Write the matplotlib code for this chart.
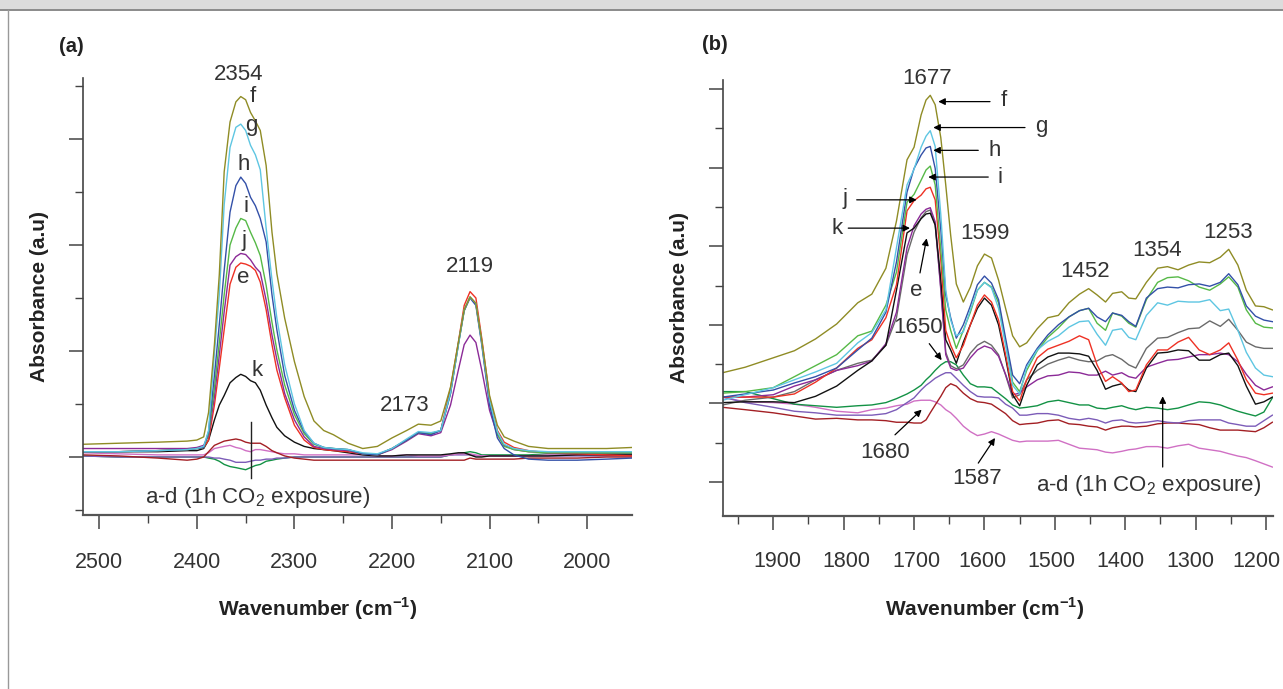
import matplotlib
matplotlib.use("Agg")
import matplotlib.pyplot as plt
from matplotlib.ticker import MultipleLocator
from matplotlib.patches import Rectangle
from matplotlib.lines import Line2D
import matplotlib.transforms as mtransforms

plt.rcParams['font.family'] = ['Liberation Sans', 'DejaVu Sans']
plt.rcParams['mathtext.fontset'] = 'custom'
plt.rcParams['mathtext.rm'] = 'Liberation Sans'
plt.rcParams['mathtext.bf'] = 'Liberation Sans:bold'

# ---- panel (a): 2520-1950 cm-1 (a.u.) ----
wn_a = [2517, 2480, 2440, 2410, 2400, 2393, 2388, 2382, 2377, 2372,
        2366, 2360, 2355, 2350, 2345, 2340, 2335, 2329, 2323, 2318,
        2310, 2300, 2290, 2280, 2270, 2260, 2245, 2230, 2215, 2200,
        2185, 2173, 2160, 2150, 2140, 2132, 2126, 2120, 2114, 2108,
        2100, 2092, 2085, 2075, 2060, 2040, 2010, 1980, 1954]

a_f = [0.012, 0.013, 0.014, 0.015, 0.016, 0.019, 0.042, 0.106, 0.172, 0.269,
       0.316, 0.335, 0.340, 0.337, 0.325, 0.317, 0.308, 0.275, 0.212, 0.173,
       0.131, 0.090, 0.057, 0.034, 0.025, 0.021, 0.013, 0.008, 0.010, 0.018,
       0.025, 0.031, 0.030, 0.034, 0.066, 0.108, 0.139, 0.151, 0.145, 0.110,
       0.058, 0.030, 0.019, 0.015, 0.010, 0.008, 0.008, 0.008, 0.009]
a_g = [0.005, 0.005, 0.006, 0.007, 0.008, 0.010, 0.025, 0.098, 0.153, 0.238,
       0.292, 0.311, 0.314, 0.308, 0.294, 0.285, 0.271, 0.216, 0.167, 0.131,
       0.087, 0.050, 0.025, 0.013, 0.009, 0.008, 0.007, 0.004, 0.003, 0.008,
       0.017, 0.024, 0.023, 0.025, 0.061, 0.106, 0.139, 0.151, 0.145, 0.108,
       0.054, 0.024, 0.012, 0.008, 0.006, 0.005, 0.005, 0.005, 0.005]
a_h = [0.005, 0.005, 0.006, 0.007, 0.008, 0.009, 0.024, 0.077, 0.125, 0.176,
       0.231, 0.256, 0.264, 0.258, 0.245, 0.237, 0.225, 0.203, 0.153, 0.120,
       0.077, 0.044, 0.024, 0.013, 0.009, 0.008, 0.007, 0.003, 0.002, 0.008,
       0.016, 0.023, 0.021, 0.025, 0.060, 0.106, 0.138, 0.150, 0.143, 0.106,
       0.049, 0.018, 0.008, 0.002, -0.002, -0.003, -0.003, -0.002, -0.001]
a_i = [0.005, 0.005, 0.006, 0.007, 0.008, 0.009, 0.022, 0.065, 0.108, 0.153,
       0.200, 0.216, 0.225, 0.223, 0.212, 0.202, 0.190, 0.162, 0.127, 0.101,
       0.068, 0.040, 0.022, 0.012, 0.009, 0.008, 0.007, 0.003, 0.002, 0.008,
       0.016, 0.023, 0.022, 0.025, 0.060, 0.106, 0.138, 0.151, 0.144, 0.108,
       0.052, 0.022, 0.010, 0.007, 0.005, 0.004, 0.004, 0.004, 0.004]
a_j = [0.008, 0.008, 0.008, 0.008, 0.009, 0.011, 0.020, 0.057, 0.096, 0.137,
       0.181, 0.189, 0.192, 0.191, 0.186, 0.179, 0.174, 0.148, 0.115, 0.092,
       0.060, 0.035, 0.019, 0.010, 0.008, 0.007, 0.006, 0.003, 0.002, 0.007,
       0.015, 0.022, 0.020, 0.023, 0.049, 0.082, 0.106, 0.115, 0.108, 0.082,
       0.044, 0.021, 0.011, 0.007, 0.005, 0.004, 0.004, 0.004, 0.004]
a_e = [0.005, 0.005, 0.006, 0.007, 0.008, 0.009, 0.016, 0.049, 0.084, 0.120,
       0.163, 0.179, 0.183, 0.182, 0.180, 0.176, 0.165, 0.139, 0.106, 0.082,
       0.056, 0.030, 0.016, 0.009, 0.007, 0.006, 0.005, 0.003, 0.002, 0.008,
       0.016, 0.023, 0.022, 0.025, 0.065, 0.108, 0.143, 0.156, 0.150, 0.112,
       0.056, 0.025, 0.014, 0.009, 0.006, 0.004, 0.003, 0.002, 0.001]
a_k = [0.005, 0.005, 0.005, 0.006, 0.006, 0.008, 0.016, 0.035, 0.049, 0.058,
       0.070, 0.075, 0.078, 0.076, 0.072, 0.070, 0.063, 0.049, 0.037, 0.028,
       0.020, 0.014, 0.010, 0.008, 0.007, 0.006, 0.004, 0.002, 0.001, 0.001,
       0.002, 0.002, 0.002, 0.002, 0.003, 0.004, 0.004, 0.002, 0.000, 0.000,
       0.001, 0.001, 0.001, 0.001, 0.001, 0.001, 0.002, 0.002, 0.002]
# a-d (1h CO2 exposure)
a_ad_red = [0.002, 0.001, -0.001, -0.003, -0.002, 0.000, 0.005, 0.011, 0.013, 0.015,
            0.016, 0.017, 0.016, 0.014, 0.013, 0.013, 0.013, 0.010, 0.006, 0.004,
            0.001, -0.001, -0.002, -0.003, -0.003, -0.003, -0.003, -0.003, -0.003, -0.003,
            -0.003, -0.003, -0.003, -0.003, -0.003, -0.003, -0.003, -0.001, -0.002, -0.002,
            -0.002, -0.002, -0.002, -0.002, -0.001, -0.001, -0.001, 0.000, 0.000]
a_ad_pink = [0.004, 0.003, 0.002, 0.002, 0.002, 0.002, 0.004, 0.008, 0.009, 0.010,
             0.011, 0.009, 0.008, 0.006, 0.005, 0.007, 0.007, 0.006, 0.005, 0.004,
             0.003, 0.003, 0.002, 0.002, 0.002, 0.002, 0.002, 0.002, 0.001, 0.001,
             0.002, 0.001, 0.001, 0.001, 0.002, 0.003, 0.003, 0.003, 0.002, 0.001,
             0.001, 0.001, 0.001, 0.001, 0.001, 0.002, 0.002, 0.002, 0.002]
a_ad_violet = [0.001, 0.000, 0.000, 0.000, 0.000, 0.000, 0.000, -0.001, -0.001, -0.002,
               -0.003, -0.005, -0.005, -0.005, -0.004, -0.003, -0.003, -0.002, -0.002, -0.001,
               -0.001, 0.000, 0.000, 0.000, 0.000, 0.000, 0.000, 0.000, 0.000, 0.000,
               0.000, 0.000, 0.000, 0.000, 0.002, 0.002, 0.002, 0.002, 0.001, 0.001,
               0.001, 0.001, 0.001, 0.001, 0.001, 0.001, 0.001, 0.001, 0.001]
a_ad_green = [0.001, 0.000, 0.000, 0.000, 0.000, 0.000, -0.001, -0.002, -0.004, -0.007,
              -0.009, -0.010, -0.011, -0.012, -0.010, -0.008, -0.007, -0.004, -0.003, -0.002,
              -0.001, 0.000, 0.000, 0.000, 0.000, 0.000, 0.000, 0.000, 0.000, 0.000,
              0.000, 0.000, 0.000, 0.000, 0.002, 0.003, 0.004, 0.005, 0.004, 0.002,
              0.002, 0.002, 0.002, 0.002, 0.002, 0.003, 0.003, 0.003, 0.003]

# ---- panel (b): 1970-1190 cm-1 ----
wn_b = [1972, 1940, 1900, 1870, 1840, 1810, 1780, 1760, 1740, 1725,
        1710, 1700, 1690, 1683, 1677, 1670, 1662, 1655, 1648, 1640,
        1630, 1620, 1610, 1600, 1590, 1580, 1570, 1560, 1550, 1540,
        1525, 1510, 1495, 1480, 1465, 1452, 1440, 1428, 1418, 1405,
        1395, 1385, 1370, 1354, 1340, 1325, 1310, 1295, 1280, 1265,
        1253, 1240, 1228, 1215, 1203, 1191]
b_tick_labels = [1900, 1800, 1700, 1600, 1500, 1400, 1300, 1200]

b_f = [0.139, 0.146, 0.158, 0.167, 0.182, 0.201, 0.228, 0.239, 0.272, 0.332,
       0.410, 0.426, 0.467, 0.486, 0.492, 0.480, 0.438, 0.378, 0.314, 0.252,
       0.229, 0.248, 0.275, 0.290, 0.285, 0.257, 0.221, 0.186, 0.172, 0.177,
       0.195, 0.209, 0.212, 0.228, 0.239, 0.246, 0.238, 0.229, 0.240, 0.242,
       0.234, 0.233, 0.254, 0.272, 0.274, 0.270, 0.276, 0.280, 0.279, 0.286,
       0.296, 0.276, 0.244, 0.224, 0.223, 0.219]
b_g = [0.104, 0.111, 0.120, 0.130, 0.140, 0.151, 0.177, 0.190, 0.219, 0.298,
       0.378, 0.398, 0.426, 0.440, 0.447, 0.427, 0.340, 0.244, 0.206, 0.186,
       0.191, 0.219, 0.244, 0.254, 0.247, 0.221, 0.174, 0.123, 0.112, 0.146,
       0.168, 0.179, 0.186, 0.197, 0.204, 0.205, 0.188, 0.174, 0.193, 0.195,
       0.184, 0.181, 0.212, 0.228, 0.225, 0.230, 0.229, 0.229, 0.232, 0.218,
       0.220, 0.193, 0.165, 0.145, 0.136, 0.134]
b_h = [0.108, 0.112, 0.117, 0.126, 0.134, 0.145, 0.168, 0.183, 0.216, 0.280,
       0.369, 0.399, 0.416, 0.425, 0.427, 0.399, 0.321, 0.238, 0.209, 0.183,
       0.200, 0.224, 0.251, 0.262, 0.253, 0.232, 0.183, 0.136, 0.125, 0.149,
       0.170, 0.187, 0.200, 0.210, 0.218, 0.221, 0.210, 0.204, 0.215, 0.212,
       0.204, 0.198, 0.234, 0.246, 0.248, 0.247, 0.251, 0.252, 0.249, 0.254,
       0.265, 0.251, 0.224, 0.211, 0.206, 0.204]
b_i = [0.113, 0.115, 0.120, 0.134, 0.148, 0.162, 0.186, 0.192, 0.225, 0.267,
       0.356, 0.366, 0.384, 0.397, 0.402, 0.378, 0.295, 0.219, 0.193, 0.170,
       0.193, 0.216, 0.244, 0.254, 0.248, 0.228, 0.178, 0.127, 0.115, 0.142,
       0.167, 0.184, 0.196, 0.210, 0.218, 0.221, 0.202, 0.193, 0.215, 0.211,
       0.202, 0.197, 0.232, 0.254, 0.260, 0.261, 0.256, 0.248, 0.244, 0.252,
       0.261, 0.248, 0.219, 0.202, 0.197, 0.196]
b_j = [0.108, 0.108, 0.108, 0.112, 0.127, 0.145, 0.170, 0.181, 0.209, 0.251,
       0.345, 0.358, 0.365, 0.373, 0.375, 0.359, 0.282, 0.193, 0.174, 0.158,
       0.174, 0.200, 0.225, 0.238, 0.229, 0.206, 0.162, 0.115, 0.103, 0.130,
       0.158, 0.169, 0.174, 0.179, 0.186, 0.181, 0.149, 0.128, 0.134, 0.126,
       0.115, 0.117, 0.149, 0.168, 0.168, 0.178, 0.184, 0.168, 0.162, 0.168,
       0.177, 0.155, 0.130, 0.113, 0.111, 0.113]
b_k = [0.101, 0.102, 0.102, 0.101, 0.109, 0.122, 0.142, 0.154, 0.174, 0.244,
       0.317, 0.323, 0.335, 0.341, 0.342, 0.327, 0.257, 0.181, 0.168, 0.151,
       0.178, 0.200, 0.221, 0.234, 0.225, 0.200, 0.158, 0.111, 0.097, 0.123,
       0.149, 0.159, 0.164, 0.164, 0.163, 0.160, 0.142, 0.118, 0.122, 0.125,
       0.117, 0.115, 0.145, 0.164, 0.165, 0.168, 0.167, 0.155, 0.155, 0.162,
       0.164, 0.148, 0.122, 0.099, 0.102, 0.108]
b_e = [0.108, 0.108, 0.111, 0.122, 0.130, 0.142, 0.148, 0.154, 0.176, 0.216,
       0.298, 0.326, 0.341, 0.347, 0.349, 0.331, 0.244, 0.162, 0.145, 0.142,
       0.145, 0.158, 0.168, 0.173, 0.170, 0.160, 0.137, 0.111, 0.113, 0.121,
       0.130, 0.135, 0.136, 0.140, 0.139, 0.136, 0.136, 0.141, 0.136, 0.139,
       0.134, 0.132, 0.146, 0.151, 0.155, 0.156, 0.159, 0.162, 0.162, 0.164,
       0.162, 0.153, 0.137, 0.123, 0.117, 0.121]
b_grey = [0.098, 0.104, 0.108, 0.115, 0.130, 0.142, 0.151, 0.155, 0.174, 0.209,
          0.289, 0.318, 0.336, 0.344, 0.346, 0.327, 0.247, 0.165, 0.148, 0.144,
          0.149, 0.164, 0.174, 0.179, 0.174, 0.162, 0.136, 0.107, 0.111, 0.130,
          0.142, 0.150, 0.155, 0.159, 0.155, 0.153, 0.154, 0.160, 0.162, 0.156,
          0.149, 0.145, 0.170, 0.183, 0.184, 0.190, 0.195, 0.196, 0.205, 0.198,
          0.207, 0.193, 0.178, 0.172, 0.170, 0.170]
b_ad_green = [0.115, 0.115, 0.106, 0.099, 0.097, 0.095, 0.097, 0.098, 0.101, 0.106,
              0.112, 0.117, 0.123, 0.130, 0.135, 0.142, 0.149, 0.153, 0.153, 0.149,
              0.136, 0.125, 0.121, 0.121, 0.120, 0.113, 0.106, 0.098, 0.094, 0.095,
              0.097, 0.102, 0.104, 0.101, 0.098, 0.098, 0.094, 0.093, 0.095, 0.097,
              0.094, 0.092, 0.095, 0.094, 0.092, 0.094, 0.098, 0.102, 0.101, 0.098,
              0.094, 0.090, 0.087, 0.084, 0.089, 0.107]
b_ad_violet = [0.108, 0.101, 0.095, 0.090, 0.088, 0.085, 0.085, 0.085, 0.087, 0.092,
               0.101, 0.107, 0.117, 0.123, 0.127, 0.132, 0.136, 0.139, 0.139, 0.132,
               0.123, 0.115, 0.109, 0.108, 0.108, 0.107, 0.099, 0.094, 0.085, 0.085,
               0.087, 0.087, 0.085, 0.081, 0.079, 0.081, 0.079, 0.075, 0.078, 0.079,
               0.076, 0.075, 0.076, 0.078, 0.076, 0.075, 0.078, 0.079, 0.079, 0.079,
               0.075, 0.073, 0.071, 0.071, 0.078, 0.085]
b_ad_red = [0.095, 0.092, 0.088, 0.084, 0.080, 0.081, 0.079, 0.079, 0.078, 0.076,
            0.076, 0.075, 0.075, 0.079, 0.088, 0.098, 0.109, 0.120, 0.125, 0.122,
            0.113, 0.106, 0.102, 0.101, 0.099, 0.093, 0.087, 0.078, 0.073, 0.074,
            0.075, 0.078, 0.079, 0.074, 0.073, 0.071, 0.070, 0.066, 0.069, 0.071,
            0.071, 0.070, 0.071, 0.074, 0.075, 0.075, 0.074, 0.073, 0.069, 0.066,
            0.066, 0.066, 0.065, 0.064, 0.069, 0.076]
b_ad_pink = [0.108, 0.102, 0.101, 0.099, 0.095, 0.090, 0.088, 0.092, 0.094, 0.097,
             0.099, 0.103, 0.104, 0.104, 0.104, 0.102, 0.098, 0.092, 0.088, 0.081,
             0.071, 0.064, 0.059, 0.061, 0.064, 0.061, 0.057, 0.053, 0.051, 0.052,
             0.052, 0.052, 0.053, 0.048, 0.043, 0.042, 0.041, 0.038, 0.037, 0.039,
             0.041, 0.042, 0.045, 0.045, 0.043, 0.046, 0.048, 0.043, 0.041, 0.039,
             0.036, 0.033, 0.031, 0.027, 0.023, 0.019]

OLIVE, CYAN, BLUE, LGREEN = '#8f8c25', '#5ec6e2', '#3350a8', '#56b947'
RED, PURPLE, BLACK, GREY = '#ee3124', '#8b2a97', '#111111', '#6a6a6a'
DRED, PINK, VIOLET, DGREEN = '#a31f24', '#d070c4', '#7c5cb8', '#139245'
TXT = '#333333'

fig = plt.figure(figsize=(12.83, 6.89), dpi=100)
W, H = 1283.0, 689.0
ax_a = fig.add_axes([83 / W, 1 - 515 / H, 549 / W, 437 / H])
ax_b = fig.add_axes([722.6 / W, 1 - 516 / H, 549.9 / W, 436 / H])


def style(ax):
    ax.spines['top'].set_visible(False)
    ax.spines['right'].set_visible(False)
    ax.spines['left'].set_color('#444444')
    ax.spines['left'].set_linewidth(1.2)
    ax.spines['bottom'].set_color('#555555')
    ax.spines['bottom'].set_linewidth(1.6)
    ax.tick_params(which='major', direction='out', length=10, width=1.1,
                   color='#444444', labelcolor=TXT, labelsize=15.5, pad=17)
    ax.tick_params(which='minor', direction='out', length=6, width=1.0,
                   color='#444444')
    ax.tick_params(axis='y', labelleft=False)
    ax.xaxis.set_major_locator(MultipleLocator(100))
    ax.xaxis.set_minor_locator(MultipleLocator(50))
    ax.yaxis.set_major_locator(MultipleLocator(0.1))
    ax.yaxis.set_minor_locator(MultipleLocator(0.05))


lw = 1.0
# panel (a)
for ys, c in [(a_ad_green, DGREEN), (a_ad_violet, VIOLET), (a_ad_pink, PINK),
              (a_ad_red, DRED), (a_k, BLACK), (a_e, RED), (a_j, PURPLE),
              (a_i, LGREEN), (a_h, BLUE), (a_g, CYAN), (a_f, OLIVE)]:
    ax_a.plot(wn_a, ys, color=c, lw=lw)
ax_a.set_xlim(2516.7, 1954)
ax_a.set_ylim(-0.0547, 0.3575)
style(ax_a)

tk = dict(fontsize=16, color=TXT, ha='center', va='center')
ax_a.text(2356.7, 0.361, '2354', **tk)
for lab, x, y in [('f', 2342.7, 0.340), ('g', 2344.4, 0.313), ('h', 2352.3, 0.276),
                  ('i', 2349.8, 0.236), ('j', 2351.3, 0.204), ('e', 2352.3, 0.169),
                  ('k', 2338.6, 0.082)]:
    ax_a.text(x, y, lab, **tk)
ax_a.text(2186.5, 0.049, '2173', **tk)
ax_a.text(2119.8, 0.180, '2119', **tk)
ax_a.plot([2344.7, 2344.7], [0.033, -0.020], color='#222222', lw=1.0)
ax_a.text(2338, -0.038, r'a-d (1h CO$_2$ exposure)', **tk)

# panel (b)
for ys, c in [(b_ad_pink, PINK), (b_ad_red, DRED), (b_ad_violet, VIOLET),
              (b_ad_green, DGREEN), (b_grey, GREY), (b_e, PURPLE), (b_k, BLACK),
              (b_j, RED), (b_i, LGREEN), (b_h, BLUE), (b_g, CYAN), (b_f, OLIVE)]:
    ax_b.plot(wn_b, ys, color=c, lw=lw)
ax_b.set_xlim(1972, 1190.8)
ax_b.set_ylim(-0.0433, 0.5115)
style(ax_b)

# the source's tick labels in (b) sit a little closer together than the ticks
ax_b.tick_params(axis='x', labelbottom=False)
shift_px = [4, 3, 2, -2, -3, -5, -5, -10]
blend = mtransforms.blended_transform_factory(ax_b.transData, ax_b.transAxes)
for v, dx in zip(b_tick_labels, shift_px):
    off = mtransforms.ScaledTranslation(dx / 100.0, 0, fig.dpi_scale_trans)
    ax_b.text(v, -0.1055, str(v), transform=blend + off, fontsize=15.5,
              color=TXT, ha='center', va='center')

arrow = dict(arrowstyle='-|>', color='black', lw=0.9, mutation_scale=10,
             shrinkA=0, shrinkB=0)


def pointer(ax, label, lxy, tail, tip):
    ax.text(lxy[0], lxy[1], label, **tk)
    ax.annotate('', xy=tip, xytext=tail, arrowprops=arrow)


ax_b.text(1681.2, 0.514, '1677', **tk)
pointer(ax_b, 'f', (1573.2, 0.486), (1592.1, 0.484), (1665.6, 0.484))
pointer(ax_b, 'g', (1518.7, 0.452), (1542.4, 0.451), (1672.7, 0.451))
pointer(ax_b, 'h', (1585.0, 0.422), (1608.8, 0.422), (1672.7, 0.422))
pointer(ax_b, 'i', (1577.9, 0.388), (1594.6, 0.388), (1679.8, 0.388))
pointer(ax_b, 'j', (1798.1, 0.361), (1781.5, 0.359), (1696.3, 0.359))
pointer(ax_b, 'k', (1809.9, 0.323), (1793.5, 0.323), (1705.8, 0.323))
pointer(ax_b, 'e', (1696.3, 0.244), (1691.6, 0.266), (1682.1, 0.310))
ax_b.text(1599.2, 0.316, '1599', **tk)
ax_b.text(1457.2, 0.268, '1452', **tk)
ax_b.text(1354.2, 0.295, '1354', **tk)
ax_b.text(1253.6, 0.318, '1253', **tk)
pointer(ax_b, '1650', (1694.0, 0.197), (1678.4, 0.176), (1660.8, 0.155))
pointer(ax_b, '1680', (1741.3, 0.038), (1727.1, 0.060), (1689.2, 0.092))
pointer(ax_b, '1587', (1611.0, 0.004), (1608.8, 0.024), (1585.0, 0.056))
pointer(ax_b, r'a-d (1h CO$_2$ exposure)', (1367.0, -0.004), (1346.8, 0.019),
        (1346.8, 0.109))

# axis titles and panel letters
lab = dict(fontsize=15, fontweight='bold', color='#222222', ha='center', va='center')
fig.text(40 / W, 1 - 296 / H, 'Absorbance (a.u)', rotation=90, **lab)
fig.text(680 / W, 1 - 298 / H, 'Absorbance (a.u)', rotation=90, **lab)
fig.text(318 / W, 1 - 609 / H, r'Wavenumber (cm$^{\mathbf{-1}}$)', **lab)
fig.text(985 / W, 1 - 609 / H, r'Wavenumber (cm$^{\mathbf{-1}}$)', **lab)
fig.text(71 / W, 1 - 47 / H, '(a)', fontsize=14.5, fontweight='bold', color='#222222',
         ha='center', va='center')
fig.text(715 / W, 1 - 45 / H, '(b)', fontsize=14.5, fontweight='bold', color='#222222',
         ha='center', va='center')

# page frame from the source layout
fig.patches.append(Rectangle((0, 1 - 9 / H), 1, 9 / H, transform=fig.transFigure,
                             facecolor='#dcdcdc', edgecolor='none'))
fig.add_artist(Line2D([0, 1], [1 - 9.5 / H] * 2, transform=fig.transFigure,
                      color='#777777', lw=1.2))
fig.add_artist(Line2D([8 / W] * 2, [0, 1 - 9.5 / H], transform=fig.transFigure,
                      color='#999999', lw=1.0))

fig.savefig('out.png', dpi=100)
